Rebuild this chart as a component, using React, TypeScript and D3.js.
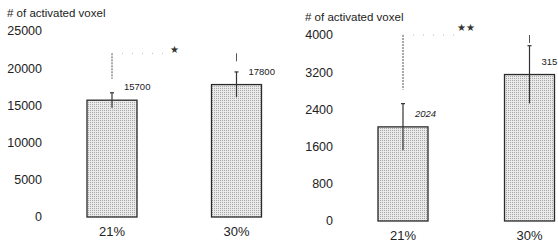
import React from 'react';
import * as d3 from 'd3';

const categories = ['21%', '30%'];
const yTitle = '# of activated voxel';

const leftValues = [15700, 17800];
const leftErrors = [1000, 1700];
const leftTicks = [0, 5000, 10000, 15000, 20000, 25000];
const leftValueLabels = ['15700', '17800'];

const rightValues = [2024, 3150];
const rightErrors = [500, 620];
const rightTicks = [0, 800, 1600, 2400, 3200, 4000];
const rightValueLabels = ['2024', '315'];

const sigLabels = ['★', '★★'];
const sigLevels = [22000, 4000];

type PanelProps = {
  id: string;
  values: number[];
  errors: number[];
  ticks: number[];
  valueLabels: string[];
  sigLabel: string;
  sigLevel: number;
  yRange: [number, number];
  xRange: [number, number];
  tickX: number;
  titleX: number;
  titleY: number;
  italicValues?: boolean;
  starDy: number;
};

function Panel(p: PanelProps) {
  const y = d3.scaleLinear().domain([0, p.ticks[p.ticks.length - 1]]).range(p.yRange);
  const x = d3.scalePoint<string>().domain(categories).range(p.xRange);
  const barW = 50;
  const x0 = x(categories[0])!;
  const x1 = x(categories[1])!;
  const ySig = y(p.sigLevel);
  const mid = (x0 + x1) / 2;
  const font = "'Liberation Sans', Arial, sans-serif";
  return (
    <g fontFamily={font}>
      <text x={p.titleX} y={p.titleY} fontSize={11.5} fill="#222">{yTitle}</text>
      {p.ticks.map((t) => (
        <text key={t} x={p.tickX} y={y(t)} dy="0.35em" textAnchor="end" fontSize={12.5} fill="#222">
          {t}
        </text>
      ))}
      {categories.map((c, i) => {
        const cx = x(c)!;
        const top = y(p.values[i]);
        return (
          <g key={c}>
            <rect
              x={cx - barW / 2}
              y={top}
              width={barW}
              height={y(0) - top}
              fill={`url(#ht-${p.id})`}
              stroke="#2a2a2a"
              strokeWidth={1.3}
            />
            <line x1={cx} x2={cx} y1={y(p.values[i] + p.errors[i])} y2={y(p.values[i] - p.errors[i])} stroke="#333" strokeWidth={1.2} />
            <line x1={cx - 2} x2={cx + 2} y1={y(p.values[i] + p.errors[i])} y2={y(p.values[i] + p.errors[i])} stroke="#333" strokeWidth={1.2} />
            <text
              x={cx + 12}
              y={top - 10}
              fontSize={9.5}
              fill="#222"
              fontStyle={p.italicValues && i === 0 ? 'italic' : 'normal'}
            >
              {p.valueLabels[i]}
            </text>
            <text x={cx} y={y(0) + 14} dy="0.35em" textAnchor="middle" fontSize={13} fill="#222">
              {c}
            </text>
          </g>
        );
      })}
      {/* significance bracket */}
      <line x1={x0} x2={x0} y1={ySig} y2={y(p.values[0] + p.errors[0]) - 14} stroke="#555" strokeWidth={1} strokeDasharray="2,1" />
      <line x1={x0} x2={mid - 9} y1={ySig} y2={ySig} stroke="#bbb" strokeWidth={1} strokeDasharray="1,9" />
      <line x1={x1} x2={x1} y1={ySig} y2={ySig + 8} stroke="#555" strokeWidth={1} />
      <text x={mid} y={ySig + p.starDy} dy="0.35em" textAnchor="middle" fontSize={10} fill="#333">
        {p.sigLabel}
      </text>
    </g>
  );
}

export default function App() {
  return (
    <svg width={558} height={246} style={{ position: 'absolute', left: 0, top: 0, background: '#fff' }}>
      <defs>
        {['l', 'r'].map((id) => (
          <pattern key={id} id={`ht-${id}`} width={2} height={2} patternUnits="userSpaceOnUse">
            <rect width={2} height={2} fill="#eaeaea" />
            <rect width={1} height={1} fill="#a8a8a8" />
          </pattern>
        ))}
      </defs>
      <Panel
        id="l"
        values={leftValues}
        errors={leftErrors}
        ticks={leftTicks}
        valueLabels={leftValueLabels}
        sigLabel={sigLabels[0]}
        sigLevel={sigLevels[0]}
        yRange={[217, 31]}
        xRange={[112, 236.5]}
        tickX={42}
        titleX={7}
        titleY={17}
        starDy={-4}
      />
      <Panel
        id="r"
        values={rightValues}
        errors={rightErrors}
        ticks={rightTicks}
        valueLabels={rightValueLabels}
        sigLabel={sigLabels[1]}
        sigLevel={sigLevels[1]}
        yRange={[221, 35]}
        xRange={[403, 529.5]}
        tickX={333}
        titleX={305}
        titleY={21}
        italicValues
        starDy={-8}
      />
    </svg>
  );
}
